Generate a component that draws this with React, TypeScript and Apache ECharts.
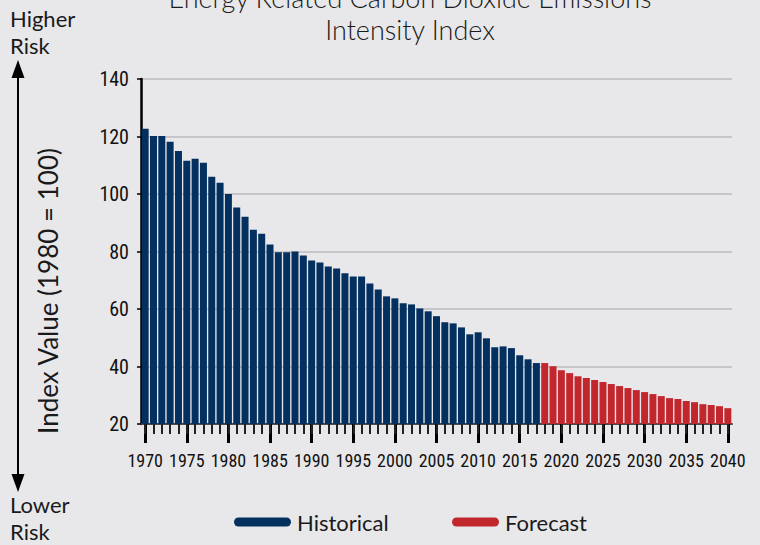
import React, { useEffect, useRef } from "react";
import * as echarts from "echarts";

const years: string[] = [
  "1970", "1971", "1972", "1973", "1974", "1975", "1976", "1977", "1978", "1979",
  "1980", "1981", "1982", "1983", "1984", "1985", "1986", "1987", "1988", "1989",
  "1990", "1991", "1992", "1993", "1994", "1995", "1996", "1997", "1998", "1999",
  "2000", "2001", "2002", "2003", "2004", "2005", "2006", "2007", "2008", "2009",
  "2010", "2011", "2012", "2013", "2014", "2015", "2016", "2017", "2018", "2019",
  "2020", "2021", "2022", "2023", "2024", "2025", "2026", "2027", "2028", "2029",
  "2030", "2031", "2032", "2033", "2034", "2035", "2036", "2037", "2038", "2039",
  "2040",
];

// 1970–2017
const historical: number[] = [
  122.7, 120.2, 120.2, 118.2, 115.0, 111.6, 112.3, 110.9, 106.0, 103.9,
  100.0, 95.3, 92.1, 87.6, 86.2, 82.4, 79.7, 79.7, 80.0, 78.6,
  76.9, 76.2, 74.8, 74.1, 72.4, 71.3, 71.3, 68.9, 66.8, 64.4,
  63.7, 62.0, 61.6, 60.2, 59.2, 57.5, 55.4, 55.0, 53.6, 51.2,
  51.9, 49.8, 46.7, 47.0, 46.4, 43.9, 42.5, 41.2,
];

// 2018–2040
const forecast: number[] = [
  41.2, 40.1, 38.7, 37.7, 36.6, 36.0, 35.3, 34.6, 33.9, 33.2,
  32.5, 31.8, 31.1, 30.4, 29.7, 29.0, 28.7, 28.0, 27.6, 26.9,
  26.6, 26.2, 25.5,
];

const yTicks = { min: 20, max: 140, interval: 20 };

const NAVY = "#03305f";
const RED = "#c3272e";
const BG = "#e8e8ea";

const pill = (w: number, h: number) => {
  const r = h / 2;
  return `path://M${r},0 L${w - r},0 A${r},${r} 0 0 1 ${w - r},${h} L${r},${h} A${r},${r} 0 0 1 ${r},0 Z`;
};

export default function App() {
  const ref = useRef<HTMLDivElement>(null);
  useEffect(() => {
    if (!ref.current) return;
    const chart = echarts.init(ref.current, null, { renderer: "svg" });
    const histData = [...historical, ...forecast.map(() => null)];
    const foreData = [...historical.map(() => null), ...forecast];
    const narrow =
      "'Roboto Condensed', 'Liberation Sans Narrow', 'DejaVu Sans Condensed', 'Open Sans Condensed', Roboto, sans-serif";
    const sans = "Lato, 'Open Sans', sans-serif";
    const cornerText = (text: string, y: number) => ({
      type: "text",
      style: {
        text,
        x: 10,
        y,
        align: "left",
        verticalAlign: "middle",
        lineHeight: 21,
        fontFamily: sans,
        fontSize: 22,
        fill: "#1a1a1a",
      },
    });
    chart.setOption({
      animation: false,
      backgroundColor: BG,
      grid: { left: 141, right: 28, top: 79, bottom: 121, containLabel: false },
      xAxis: [
        {
          type: "category",
          data: years,
          position: "bottom",
          boundaryGap: true,
          axisLine: { show: true, lineStyle: { color: "#4a4a4a", width: 2 } },
          axisTick: {
            show: true,
            alignWithLabel: true,
            interval: (i: number) => i % 5 === 0,
            length: 19,
            lineStyle: { color: "#000", width: 3 },
          },
          axisLabel: {
            interval: (i: number) => i % 5 === 0,
            showMinLabel: true,
            showMaxLabel: true,
            hideOverlap: false,
            margin: 27,
            fontFamily: narrow,
            fontSize: 18,
            color: "#111",
          },
        },
        {
          type: "category",
          data: years,
          position: "bottom",
          offset: 0,
          boundaryGap: true,
          axisLine: { show: false },
          axisTick: {
            show: true,
            alignWithLabel: true,
            interval: 0,
            length: 10,
            lineStyle: { color: "#222", width: 2 },
          },
          axisLabel: { show: false },
          splitLine: { show: false },
        },
      ],
      yAxis: {
        type: "value",
        min: yTicks.min,
        max: yTicks.max,
        interval: yTicks.interval,
        axisLine: { show: true, lineStyle: { color: "#000", width: 2.5 } },
        axisTick: { show: true, length: 4, lineStyle: { color: "#000", width: 1.5 } },
        axisLabel: {
          margin: 12,
          fontFamily: narrow,
          fontSize: 20,
          color: "#111",
        },
        splitLine: { show: true, lineStyle: { color: "#c6c6c8", width: 2 } },
      },
      legend: [
        {
          data: [{ name: "Historical", icon: pill(57, 9) }],
          left: 234,
          top: 511,
          padding: 0,
          itemWidth: 57,
          itemHeight: 9,
          itemGap: 6,
          textStyle: { fontFamily: sans, fontSize: 22, color: "#1a1a1a", padding: [0, 0, 0, 1] },
        },
        {
          data: [{ name: "Forecast", icon: pill(47, 9) }],
          left: 452,
          top: 511,
          padding: 0,
          itemWidth: 47,
          itemHeight: 9,
          textStyle: { fontFamily: sans, fontSize: 22, color: "#1a1a1a", padding: [0, 0, 0, 1] },
        },
      ],
      series: [
        {
          name: "Historical",
          type: "bar",
          xAxisIndex: 0,
          data: histData,
          barWidth: "84%",
          barGap: "-100%",
          itemStyle: { color: NAVY },
        },
        {
          name: "Forecast",
          type: "bar",
          xAxisIndex: 0,
          data: foreData,
          barWidth: "84%",
          barGap: "-100%",
          itemStyle: { color: RED },
        },
      ],
      graphic: [
        {
          type: "text",
          style: {
            text: "Energy Related Carbon Dioxide Emissions",
            x: 410,
            y: -3,
            align: "center",
            verticalAlign: "middle",
            fontFamily: sans,
            fontSize: 27,
            fontWeight: 300,
            fill: "#1a1a1a",
          },
        },
        {
          type: "text",
          style: {
            text: "Intensity Index",
            x: 410,
            y: 29,
            align: "center",
            verticalAlign: "middle",
            fontFamily: sans,
            fontSize: 27,
            fontWeight: 300,
            fill: "#1a1a1a",
          },
        },
        cornerText("Higher", 18),
        cornerText("Risk", 45),
        cornerText("Lower", 504),
        cornerText("Risk", 531),
        {
          type: "line",
          shape: { x1: 18, y1: 72, x2: 18, y2: 482 },
          style: { stroke: "#000", lineWidth: 2 },
        },
        {
          type: "polygon",
          shape: { points: [[18, 60], [11.5, 78], [24.5, 78]] },
          style: { fill: "#000" },
        },
        {
          type: "polygon",
          shape: { points: [[18, 492], [11.5, 474], [24.5, 474]] },
          style: { fill: "#000" },
        },
        {
          type: "text",
          rotation: Math.PI / 2,
          x: 48,
          y: 291,
          style: {
            text: "Index Value (1980 = 100)",
            x: 0,
            y: 0,
            align: "center",
            verticalAlign: "middle",
            fontFamily: sans,
            fontSize: 26,
            fill: "#1a1a1a",
          },
        },
      ],
    });
    return () => chart.dispose();
  }, []);
  return (
    <div
      ref={ref}
      style={{ position: "fixed", left: 0, top: 0, width: 760, height: 545, background: BG }}
    />
  );
}
